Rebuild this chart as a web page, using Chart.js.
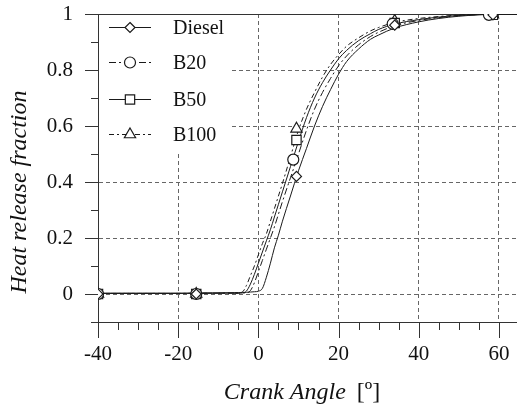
<!DOCTYPE html>
<html>
<head>
<meta charset="utf-8">
<script src="https://cdn.jsdelivr.net/npm/chart.js@4/dist/chart.umd.min.js"></script>
<style>
  body { margin: 0; background: #fff; }
  #wrap { width: 517px; height: 411px; }
</style>
</head>
<body>
<div id="wrap"><canvas id="hrf" width="517" height="411"></canvas></div>
<script>
var angles = [-40, -30, -20, -10, -6, -5, -4, -3, -2, -1, 0, 1, 2, 3, 4, 5, 6, 8, 10, 12, 14, 16, 18, 20, 22, 25, 28, 30, 34, 40, 45, 50, 55, 60, 64.5];

var dieselCurve = [0.003, 0.003, 0.003, 0.004, 0.005, 0.005, 0.005, 0.006, 0.007, 0.008, 0.010, 0.020, 0.060, 0.110, 0.165, 0.210, 0.260, 0.350, 0.440, 0.520, 0.600, 0.670, 0.730, 0.785, 0.830, 0.875, 0.910, 0.925, 0.950, 0.972, 0.984, 0.992, 0.997, 0.999, 1.000];
var b20Curve    = [0.002, 0.002, 0.002, 0.003, 0.003, 0.003, 0.004, 0.004, 0.012, 0.040, 0.080, 0.120, 0.160, 0.200, 0.240, 0.285, 0.330, 0.415, 0.500, 0.585, 0.660, 0.720, 0.770, 0.815, 0.850, 0.890, 0.920, 0.935, 0.958, 0.977, 0.987, 0.994, 0.998, 0.999, 1.000];
var b50Curve    = [0.002, 0.002, 0.002, 0.003, 0.003, 0.003, 0.004, 0.010, 0.035, 0.070, 0.110, 0.150, 0.190, 0.230, 0.275, 0.320, 0.365, 0.455, 0.545, 0.630, 0.700, 0.755, 0.800, 0.840, 0.870, 0.905, 0.930, 0.945, 0.964, 0.980, 0.989, 0.995, 0.998, 0.999, 1.000];
var b100Curve   = [0.002, 0.002, 0.002, 0.003, 0.003, 0.004, 0.007, 0.030, 0.065, 0.100, 0.140, 0.180, 0.215, 0.260, 0.305, 0.350, 0.395, 0.490, 0.585, 0.660, 0.720, 0.775, 0.820, 0.855, 0.885, 0.915, 0.940, 0.952, 0.970, 0.984, 0.991, 0.996, 0.998, 0.999, 1.000];

// measured points (markers)
var dieselPtsX = [-40, -15.5, 9.5, 34, 58.5];
var dieselPtsY = [0.0, 0.0, 0.42, 0.96, 0.997];
var b20PtsX    = [-40, -15.5, 8.7, 33.5, 57.5];
var b20PtsY    = [0.0, 0.0, 0.48, 0.965, 0.997];
var b50PtsX    = [-40, -15.5, 9.5, 34, 58.5];
var b50PtsY    = [0.0, 0.0, 0.55, 0.968, 0.997];
var b100PtsX   = [-40, -15.5, 9.5, 34, 58.5];
var b100PtsY   = [0.0, 0.0, 0.59, 0.975, 0.998];

var fuels = ['Diesel', 'B20', 'B50', 'B100'];

var xMin = -40, xMax = 64.5;
var yMin = -0.1, yMax = 1;

var SERIF = '"Liberation Serif", "Times New Roman", serif';
var INK = '#1a1a1a';

var dashes  = [[], [7, 3, 2, 3], [], [5, 3, 2, 3]];
var markers = ['rectRot', 'circle', 'rect', 'triangle'];
var radii   = [5, 5.5, 6.6, 6.5];

function pairs(xs, ys) {
  var out = [];
  for (var i = 0; i < xs.length; i++) out.push({ x: xs[i], y: ys[i] });
  return out;
}

var curves = [dieselCurve, b20Curve, b50Curve, b100Curve];
var ptsX = [dieselPtsX, b20PtsX, b50PtsX, b100PtsX];
var ptsY = [dieselPtsY, b20PtsY, b50PtsY, b100PtsY];

var datasets = [];
for (var k = 0; k < fuels.length; k++) {
  datasets.push({
    label: fuels[k],
    data: pairs(angles, curves[k]),
    showLine: true,
    borderColor: INK,
    borderWidth: 1,
    borderDash: dashes[k],
    pointRadius: 0,
    cubicInterpolationMode: 'monotone',
    order: 2
  });
}
for (var k = 0; k < fuels.length; k++) {
  datasets.push({
    label: fuels[k] + ' pts',
    data: pairs(ptsX[k], ptsY[k]),
    showLine: false,
    pointStyle: markers[k],
    pointRadius: radii[k],
    backgroundColor: '#fff',
    borderColor: INK,
    borderWidth: 1.2,
    order: 1
  });
}

function drawMark(c, style, x, y, r) {
  c.beginPath();
  if (style === 'circle') {
    c.arc(x, y, r, 0, Math.PI * 2);
  } else if (style === 'rect') {
    var s = r * Math.SQRT1_2;
    c.rect(x - s, y - s, 2 * s, 2 * s);
  } else if (style === 'rectRot') {
    c.moveTo(x, y - r); c.lineTo(x + r, y); c.lineTo(x, y + r); c.lineTo(x - r, y); c.closePath();
  } else {
    var h = r * 1.5, w = r * Math.sqrt(3) / 2;
    c.moveTo(x, y - r); c.lineTo(x + w, y + h - r); c.lineTo(x - w, y + h - r); c.closePath();
  }
  c.fill(); c.stroke();
}

var frame = {
  id: 'frame',
  beforeDatasetsDraw: function(chart) {
    var c = chart.ctx, a = chart.chartArea;
    var xs = chart.scales.x, ys = chart.scales.y;
    c.save();
    // white legend panel hides the grid
    c.fillStyle = '#fff';
    c.fillRect(a.left + 1, a.top + 1, 130, 136);
    c.strokeStyle = '#333';
    c.lineWidth = 1;
    c.beginPath();
    c.moveTo(a.left, a.top + 0.5); c.lineTo(a.right, a.top + 0.5);
    xs.ticks.forEach(function(t) {
      var px = Math.round(xs.getPixelForValue(t.value)) + 0.5;
      var len = (t.value % 20 === 0) ? 16 : 8;
      c.moveTo(px, a.bottom); c.lineTo(px, a.bottom + len);
    });
    ys.ticks.forEach(function(t) {
      var py = Math.round(ys.getPixelForValue(t.value)) + 0.5;
      var n = Math.round(t.value * 10);
      var len = (n % 2 === 0) ? 13 : 7;
      c.moveTo(a.left - len, py); c.lineTo(a.left, py);
    });
    c.stroke();
    c.restore();
  },
  afterDraw: function(chart) {
    var c = chart.ctx;
    c.save();
    // legend
    var rows = [27, 62, 99, 134];
    c.strokeStyle = INK;
    c.lineWidth = 1;
    for (var i = 0; i < fuels.length; i++) {
      var y = rows[i] + 0.5;
      c.setLineDash(dashes[i]);
      c.beginPath(); c.moveTo(109, y); c.lineTo(151, y); c.stroke();
      c.setLineDash([]);
      c.fillStyle = '#fff';
      c.lineWidth = 1.2;
      drawMark(c, markers[i], 130, y, radii[i]);
      c.lineWidth = 1;
      c.fillStyle = '#111';
      c.font = '20px ' + SERIF;
      c.textAlign = 'left';
      c.textBaseline = 'middle';
      c.fillText(fuels[i], 173, rows[i] + 2);
    }
    // y title
    c.fillStyle = '#111';
    c.font = 'italic 24px ' + SERIF;
    c.translate(20, 192);
    c.rotate(-Math.PI / 2);
    c.textAlign = 'center';
    c.textBaseline = 'middle';
    c.fillText('Heat release fraction', 0, 0);
    c.setTransform(1, 0, 0, 1, 0, 0);
    // x title
    c.textAlign = 'left';
    c.font = 'italic 24px ' + SERIF;
    var w1 = c.measureText('Crank Angle').width;
    c.font = '24px ' + SERIF;
    var w2 = c.measureText('[º]').width;
    var x0 = 302 - (w1 + 11 + w2) / 2;
    c.font = 'italic 24px ' + SERIF;
    c.fillText('Crank Angle', x0, 393);
    c.font = '24px ' + SERIF;
    c.fillText('[º]', x0 + w1 + 11, 393);
    c.restore();
  }
};

new Chart(document.getElementById('hrf').getContext('2d'), {
  type: 'scatter',
  data: { datasets: datasets },
  options: {
    responsive: false,
    animation: false,
    events: [],
    layout: { autoPadding: false, padding: { top: 14, right: 0, left: 0, bottom: 0 } },
    plugins: { legend: { display: false }, tooltip: { enabled: false } },
    scales: {
      x: {
        type: 'linear',
        min: xMin, max: xMax,
        afterFit: function(s) {
          s.height = 89;
          s.paddingLeft = 0; s.paddingRight = 0;
        },
        afterBuildTicks: function(s) {
          var t = [];
          for (var v = -40; v <= 60; v += 5) t.push({ value: v });
          s.ticks = t;
        },
        ticks: {
          autoSkip: false, maxRotation: 0, padding: 20,
          color: '#111', font: { family: SERIF, size: 21 },
          callback: function(v) { return (v % 20 === 0) ? String(v) : ''; }
        },
        grid: {
          drawTicks: false, lineWidth: 1,
          color: function(ctx) {
            var v = ctx.tick ? ctx.tick.value : null;
            return (v !== null && v % 20 === 0 && v !== -40) ? '#666' : 'rgba(0,0,0,0)';
          }
        },
        border: { display: true, color: '#333', width: 1, dash: [4, 3] }
      },
      y: {
        type: 'linear',
        min: yMin, max: yMax,
        afterFit: function(s) {
          s.width = 98;
          s.paddingTop = 0; s.paddingBottom = 0;
        },
        ticks: {
          stepSize: 0.1, autoSkip: false, padding: 25,
          color: '#111', font: { family: SERIF, size: 21 },
          callback: function(v) {
            var n = Math.round(v * 10);
            if (n < 0 || n % 2 !== 0) return '';
            return n === 10 ? '1' : (n === 0 ? '0' : (n / 10).toFixed(1));
          }
        },
        grid: {
          drawTicks: false, lineWidth: 1,
          color: function(ctx) {
            var n = ctx.tick ? Math.round(ctx.tick.value * 10) : -1;
            return (n >= 0 && n <= 8 && n % 2 === 0) ? '#666' : 'rgba(0,0,0,0)';
          }
        },
        border: { display: true, color: '#333', width: 1, dash: [4, 3] }
      }
    }
  },
  plugins: [frame]
});
</script>
</body>
</html>
